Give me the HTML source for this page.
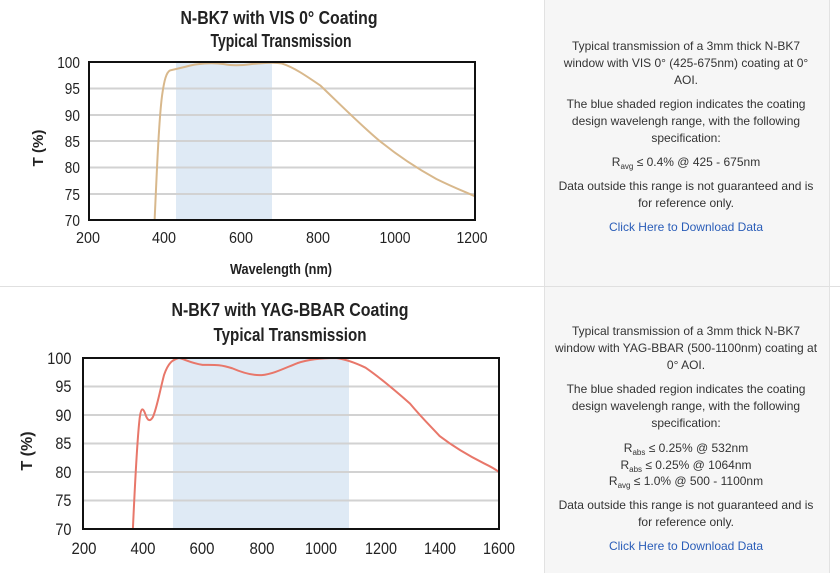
<!DOCTYPE html>
<html><head><meta charset="utf-8"><style>
body{margin:0;width:840px;height:573px;background:#fff;position:relative;overflow:hidden;font-family:"Liberation Sans",sans-serif}
.side{position:absolute;left:544px;width:284px;background:#f6f6f6;border-left:1px solid #e2e2e2;border-right:1px solid #e2e2e2}
.t{position:absolute;left:8px;width:268px;text-align:center;font-size:12px;color:#333;line-height:17px}
.lk{color:#2a5db8}
sub{font-size:8px;vertical-align:-3px;line-height:0}
</style></head><body>
<div class="side" style="top:0;height:286px"></div>
<div class="side" style="top:287px;height:286px"></div>
<div style="position:absolute;left:0;top:286px;width:840px;height:1px;background:#e0e0e0"></div>
<div style="position:absolute;left:544px;top:0;width:284px">
<div class="t" style="top:38px">Typical transmission of a 3mm thick N-BK7 window with VIS 0° (425-675nm) coating at 0° AOI.</div>
<div class="t" style="top:96px">The blue shaded region indicates the coating design wavelengh range, with the following specification:</div>
<div class="t" style="top:154px">R<sub>avg</sub> ≤ 0.4% @ 425 - 675nm</div>
<div class="t" style="top:178px">Data outside this range is not guaranteed and is for reference only.</div>
<div class="t lk" style="top:219px">Click Here to Download Data</div>
<div class="t" style="top:323px">Typical transmission of a 3mm thick N-BK7 window with YAG-BBAR (500-1100nm) coating at 0° AOI.</div>
<div class="t" style="top:381px">The blue shaded region indicates the coating design wavelengh range, with the following specification:</div>
<div class="t" style="top:440px;line-height:16.5px">R<sub>abs</sub> ≤ 0.25% @ 532nm<br>R<sub>abs</sub> ≤ 0.25% @ 1064nm<br>R<sub>avg</sub> ≤ 1.0% @ 500 - 1100nm</div>
<div class="t" style="top:497px">Data outside this range is not guaranteed and is for reference only.</div>
<div class="t lk" style="top:538px">Click Here to Download Data</div>
</div>
<svg width="544" height="573" style="position:absolute;left:0;top:0" font-family="Liberation Sans, sans-serif" font-weight="bold" fill="#222">
<g font-size="18" text-anchor="middle">
<text x="279" y="24" textLength="197" lengthAdjust="spacingAndGlyphs">N-BK7 with VIS 0° Coating</text>
<text x="281" y="47" textLength="141" lengthAdjust="spacingAndGlyphs">Typical Transmission</text>
<text x="290" y="316" textLength="237" lengthAdjust="spacingAndGlyphs">N-BK7 with YAG-BBAR Coating</text>
<text x="290" y="341" textLength="153" lengthAdjust="spacingAndGlyphs">Typical Transmission</text>
</g>
<!-- chart 1 -->
<rect x="176" y="63" width="96" height="156" fill="#dfeaf5"/>
<g stroke="#d2d2d2" stroke-width="2">
<line x1="90" x2="474" y1="88.5" y2="88.5"/><line x1="90" x2="474" y1="115" y2="115"/><line x1="90" x2="474" y1="141" y2="141"/><line x1="90" x2="474" y1="167.5" y2="167.5"/><line x1="90" x2="474" y1="194" y2="194"/>
</g>
<g transform="translate(11.8,589) scale(0.386,-5.27)">
<path fill="none" stroke="#d8b88c" stroke-width="2" vector-effect="non-scaling-stroke" d="M370,70 C376,80 382,90 390,94 C395,96.5 400,98 410,98.4 L450,99.1 C480,99.8 520,99.9 550,99.6 C570,99.3 590,99.3 620,99.6 C650,99.8 680,100 700,99.7 C730,99 760,97.5 800,95.5 C850,92 900,88.3 950,85.2 C1000,82.2 1050,79.8 1100,77.8 C1150,76 1180,75.2 1200,74.5"/>
</g>
<rect x="89" y="62" width="386" height="158" fill="none" stroke="#111" stroke-width="2"/>
<g font-size="16" text-anchor="end" font-weight="normal">
<g transform="scale(0.85,1)">
<text x="94" y="68">100</text><text x="94" y="94">95</text><text x="94" y="121">90</text><text x="94" y="147">85</text><text x="94" y="173">80</text><text x="94" y="200">75</text><text x="94" y="226">70</text>
</g></g>
<g font-size="16" text-anchor="middle" font-weight="normal">
<text x="88" y="243" textLength="24" lengthAdjust="spacingAndGlyphs">200</text><text x="164" y="243" textLength="24" lengthAdjust="spacingAndGlyphs">400</text><text x="241" y="243" textLength="24" lengthAdjust="spacingAndGlyphs">600</text><text x="318" y="243" textLength="24" lengthAdjust="spacingAndGlyphs">800</text><text x="395" y="243" textLength="31" lengthAdjust="spacingAndGlyphs">1000</text><text x="472" y="243" textLength="31" lengthAdjust="spacingAndGlyphs">1200</text>
</g>
<text x="281" y="274" font-size="15" text-anchor="middle" textLength="102" lengthAdjust="spacingAndGlyphs">Wavelength (nm)</text>
<text transform="translate(43,148) rotate(-90)" font-size="15" text-anchor="middle">T (%)</text>
<!-- chart 2 -->
<rect x="173" y="359" width="176" height="169" fill="#dfeaf5"/>
<g stroke="#d2d2d2" stroke-width="2">
<line x1="84" x2="499" y1="386.5" y2="386.5"/><line x1="84" x2="499" y1="415" y2="415"/><line x1="84" x2="499" y1="443.5" y2="443.5"/><line x1="84" x2="499" y1="472" y2="472"/><line x1="84" x2="499" y1="500.5" y2="500.5"/>
</g>
<g transform="translate(24.7,928) scale(0.2964,-5.7)">
<path fill="none" stroke="#e8776a" stroke-width="2" vector-effect="non-scaling-stroke" d="M365,70 C372,78 380,86 388,89.5 C393,91.5 400,91.3 408,90 C415,89 422,88.8 432,89.6 C445,91 455,94 470,97 C485,99.3 500,99.7 520,100 C540,99.8 560,99.1 600,98.8 C640,98.8 660,98.9 700,98.2 C740,97.3 770,96.9 800,97 C840,97.2 880,98.3 920,99.1 C960,99.8 1000,100 1050,100 C1080,99.8 1110,99.3 1150,98.3 C1200,96.5 1250,94.3 1300,92 C1340,89.5 1370,88 1400,86.3 C1450,84.3 1500,82.8 1550,81.5 C1570,81 1590,80.4 1600,80"/>
</g>
<rect x="83" y="358" width="416" height="171" fill="none" stroke="#111" stroke-width="2"/>
<g font-size="17" text-anchor="end" font-weight="normal">
<g transform="scale(0.85,1)">
<text x="84" y="364">100</text><text x="84" y="392">95</text><text x="84" y="421">90</text><text x="84" y="449">85</text><text x="84" y="478">80</text><text x="84" y="506">75</text><text x="84" y="535">70</text>
</g></g>
<g font-size="17" text-anchor="middle" font-weight="normal">
<text x="84" y="554" textLength="25" lengthAdjust="spacingAndGlyphs">200</text><text x="143" y="554" textLength="25" lengthAdjust="spacingAndGlyphs">400</text><text x="202" y="554" textLength="25" lengthAdjust="spacingAndGlyphs">600</text><text x="262" y="554" textLength="25" lengthAdjust="spacingAndGlyphs">800</text><text x="321" y="554" textLength="32" lengthAdjust="spacingAndGlyphs">1000</text><text x="381" y="554" textLength="32" lengthAdjust="spacingAndGlyphs">1200</text><text x="440" y="554" textLength="32" lengthAdjust="spacingAndGlyphs">1400</text><text x="499" y="554" textLength="32" lengthAdjust="spacingAndGlyphs">1600</text>
</g>
<text transform="translate(32,451) rotate(-90)" font-size="16" text-anchor="middle">T (%)</text>
</svg>
</body></html>
